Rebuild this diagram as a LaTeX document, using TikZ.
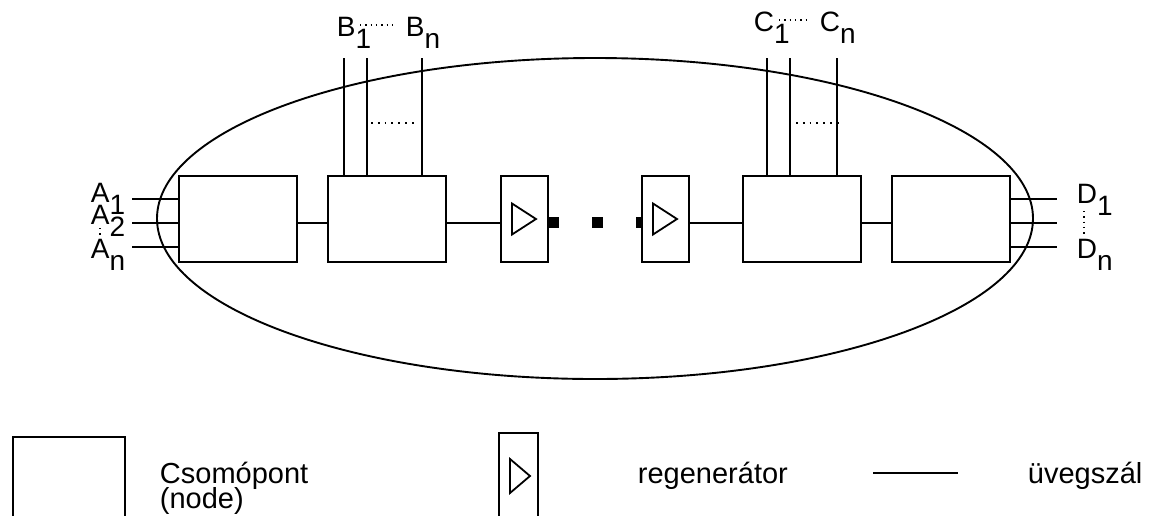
\documentclass[tikz,border=0pt]{standalone}
\usepackage{fontspec}
\setmainfont{Liberation Sans}
\newcommand\lsub[1]{\lower12pt\hbox{#1}}
\begin{document}
\begin{tikzpicture}[x=1pt,y=-1pt, line width=1.9pt,
  nodebox/.style={draw, minimum width=118pt, minimum height=86pt, inner sep=0pt},
  regbox/.style={draw, fill=white, minimum width=47pt, minimum height=86pt, inner sep=0pt},
  lbl/.style={font=\fontsize{28}{28}\selectfont, inner sep=0pt, anchor=base west},
  leg/.style={font=\fontsize{29}{24}\selectfont, inner sep=0pt, anchor=base west},
  dotsl/.style={line width=1.8pt, dash pattern=on 1.8pt off 5pt},
  dotsm/.style={line width=1.3pt, dash pattern=on 1.3pt off 4pt},
  sq/.style={fill=black, minimum size=11pt, inner sep=0pt},
  tri/.style={line width=1.8pt, line join=miter}]
\useasboundingbox (0,0) rectangle (1159,515);

% ellipse
\draw (595,218.5) ellipse [x radius=438, y radius=160.5];

% node boxes
\node[nodebox] (b1) at (238,219) {};
\node[nodebox] (b2) at (387,219) {};
\node[nodebox] (b3) at (802,219) {};
\node[nodebox] (b4) at (951,219) {};

% squares
\node[sq] (s1) at (553.5,222.5) {};
\node[sq] (s2) at (597,222.5) {};
\node[sq] (s3) at (641.5,222.5) {};

% regenerators
\node[regbox] (r1) at (524.5,219) {};
\node[regbox] (r2) at (665.5,219) {};
\draw[tri,shift={(r1.center)}] (-12.5,-15.5) -- (11.5,0) -- (-12.5,15.5) -- cycle;
\draw[tri,shift={(r2.center)}] (-12.5,-15.5) -- (11.5,0) -- (-12.5,15.5) -- cycle;

% fibres between elements
\draw ([yshift=-4pt]b1.east) -- ([yshift=-4pt]b2.west);
\draw ([yshift=-4pt]b2.east) -- ([yshift=-4pt]r1.west);
\draw ([yshift=-4pt]r2.east) -- ([yshift=-4pt]b3.west);
\draw ([yshift=-4pt]b3.east) -- ([yshift=-4pt]b4.west);

% A inputs
\coordinate (a1) at (132,199);
\coordinate (a2) at (132,223);
\coordinate (an) at (132,247);
\draw (a1) -- (a1 -| b1.west);
\draw (a2) -- (a2 -| b1.west);
\draw (an) -- (an -| b1.west);

% D outputs
\coordinate (d1) at (1057,199);
\coordinate (d2) at (1057,223);
\coordinate (dn) at (1057,247);
\draw (d1 -| b4.east) -- (d1);
\draw (d2 -| b4.east) -- (d2);
\draw (dn -| b4.east) -- (dn);

% B lines
\coordinate (bt1) at (344,58);
\coordinate (bt2) at (367,58);
\coordinate (btn) at (422,58);
\draw (bt1) -- (bt1 |- b2.north);
\draw (bt2) -- (bt2 |- b2.north);
\draw (btn) -- (btn |- b2.north);
\draw[dotsl] (371,123) -- (418,123);

% C lines
\coordinate (ct1) at (767,58);
\coordinate (ct2) at (790,58);
\coordinate (ctn) at (837,58);
\draw (ct1) -- (ct1 |- b3.north);
\draw (ct2) -- (ct2 |- b3.north);
\draw (ctn) -- (ctn |- b3.north);
\draw[dotsl] (796,123) -- (842,123);

% labels
\node[lbl] (la1) at (90,202) {A\lsub{1}};
\node[lbl] (la2) at (90,224) {A\lsub{2}};
\node[lbl] (lan) at (90,258) {A\lsub{n}};
\draw[dotsm] (100,228) -- (100,237);

\node[lbl] (ld1) at (1076,203) {D\lsub{1}};
\node[lbl] (ldn) at (1076,258) {D\lsub{n}};
\draw[dotsm] (1084,211) -- (1084,234);

\node[lbl] (lb1) at (336,36) {B\lsub{1}};
\node[lbl] (lbn) at (405,36) {B\lsub{n}};
\draw[dotsm] (360,25) -- (392,25);

\node[lbl] (lc1) at (753,31) {C\lsub{1}};
\node[lbl] (lcn) at (819,31) {C\lsub{n}};
\draw[dotsm] (779,20) -- (809,20);

% legend
\draw (13,520) -- (13,437) -- (125,437) -- (125,520);
\node[leg] (lt1) at (159,483) {Csomópont};
\node[leg] (lt2) at (159,508) {(node)};

\draw (499,520) -- (499,433) -- (538,433) -- (538,520);
\draw[tri] (510,459) -- (530,476) -- (510,493) -- cycle;
\node[leg] (lt3) at (637,483) {regenerátor};

\coordinate (lf1) at (873,473);
\coordinate (lf2) at (958,473);
\draw (lf1) -- (lf2);
\node[leg] (lt4) at (1027,483) {üvegszál};
\end{tikzpicture}
\end{document}
